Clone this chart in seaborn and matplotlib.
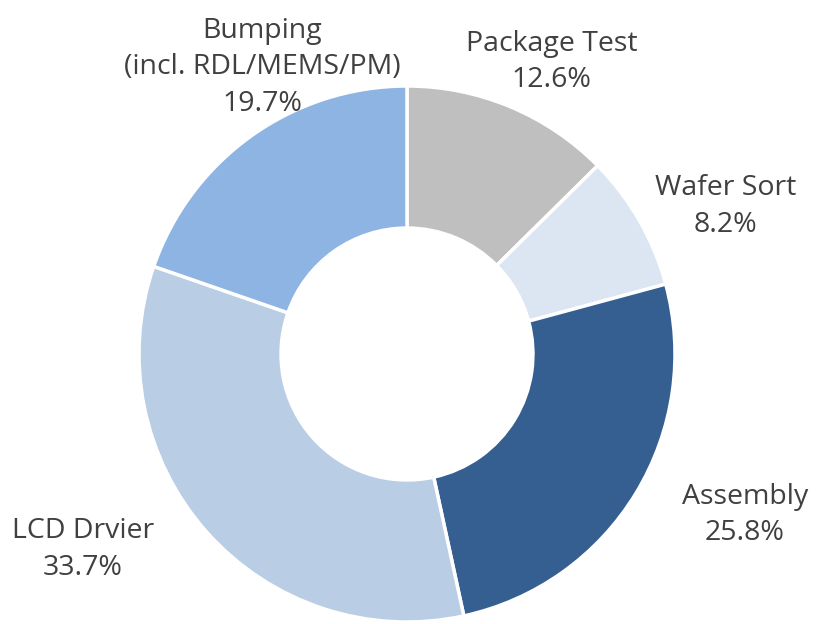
import matplotlib
matplotlib.use("Agg")
import matplotlib.pyplot as plt
import seaborn as sns

segments = ["Package Test", "Wafer Sort", "Assembly", "LCD Drvier", "Bumping\n(incl. RDL/MEMS/PM)"]
shares = [12.6, 8.2, 25.8, 33.7, 19.7]
colors = ["#BFBFBF", "#DCE6F2", "#355F91", "#B9CDE5", "#8EB4E3"]

# label anchor points (layout, in units of the outer radius)
label_pos = [(0.54, 1.09), (1.19, 0.55), (1.26, -0.60), (-1.21, -0.73), (-0.54, 1.07)]

sns.set_theme(style="white")
plt.rcParams["font.family"] = ["Open Sans", "DejaVu Sans"]

fig = plt.figure(figsize=(8.3, 6.24), dpi=100)
ax = fig.add_axes([0, 0, 1, 1])

ax.pie(shares, colors=colors, startangle=90, counterclock=False, radius=1.0,
       wedgeprops=dict(width=0.53, edgecolor="white", linewidth=2.5))

for name, val, (x, y) in zip(segments, shares, label_pos):
    ax.text(x, y, f"{name}\n{val:.1f}%", ha="center", va="center",
            fontsize=20.5, color="#404040", linespacing=1.4)

ax.set_xlim(-407 / 268, (830 - 407) / 268)
ax.set_ylim(-(624 - 354) / 268, 354 / 268)
ax.set_aspect("equal")
ax.axis("off")

fig.savefig("out.png", dpi=100, facecolor="white")
